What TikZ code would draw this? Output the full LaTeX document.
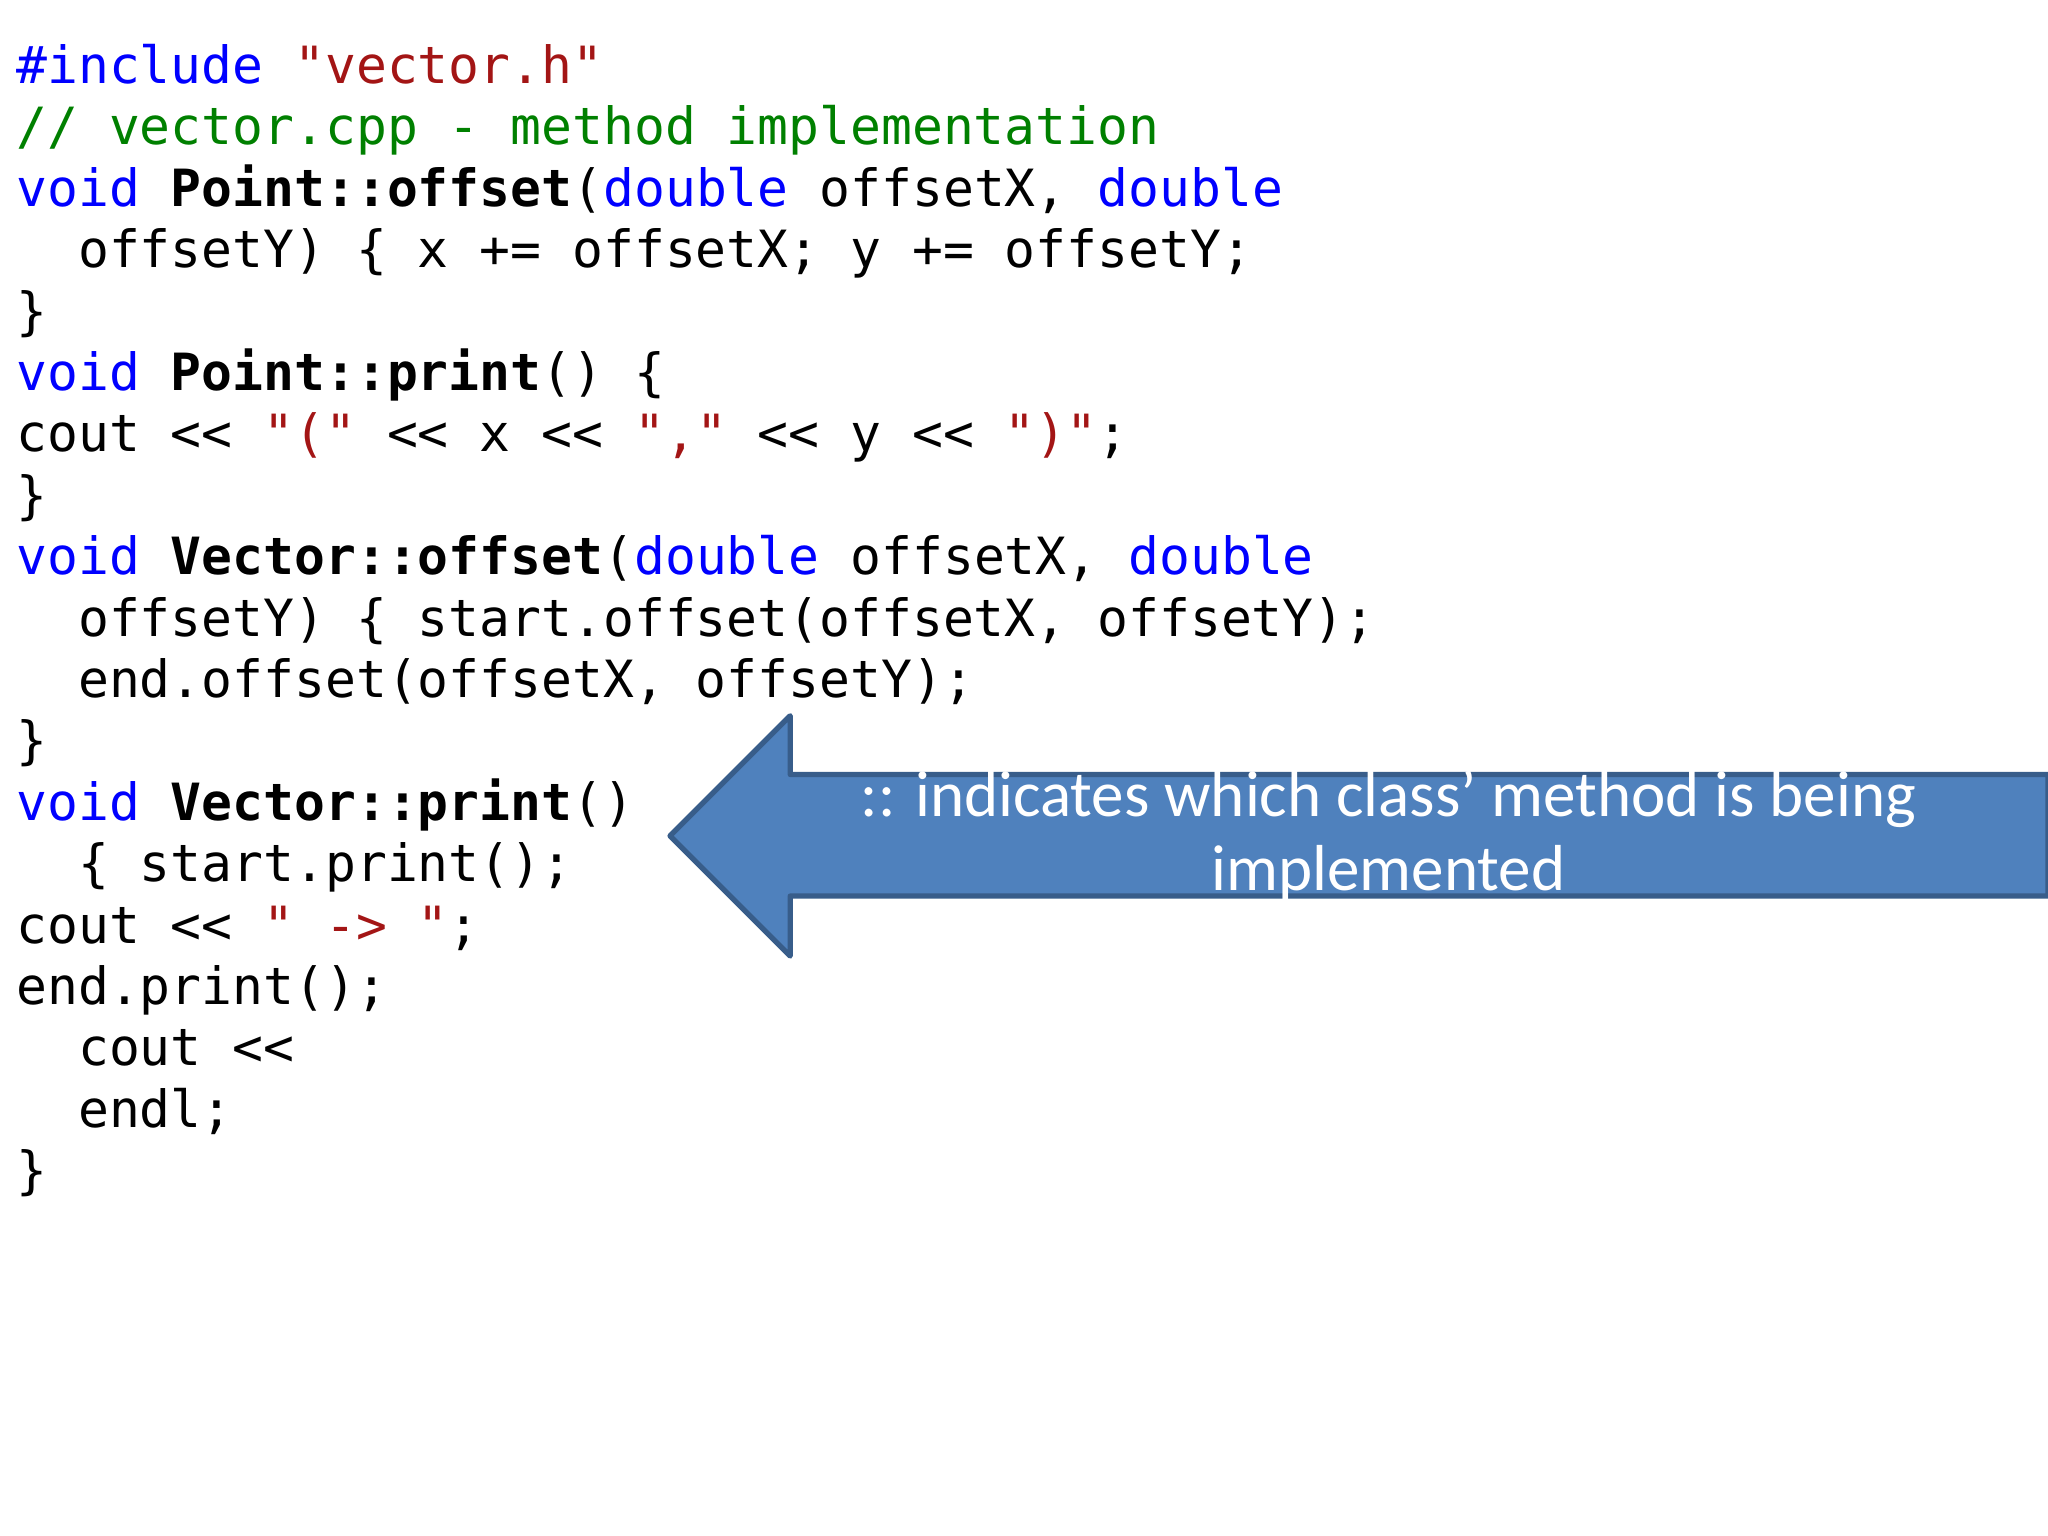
\documentclass[tikz,border=0pt]{standalone}
\usepackage{fontspec}
\setmonofont{DejaVu Sans Mono}
\newfontfamily\calib{Carlito}
\definecolor{kw}{RGB}{0,0,255}
\definecolor{st}{RGB}{163,21,21}
\definecolor{cm}{RGB}{0,128,0}
\definecolor{af}{RGB}{79,129,189}
\definecolor{ad}{RGB}{56,93,138}
\newcommand{\K}[1]{\textcolor{kw}{#1}}
\newcommand{\St}[1]{\textcolor{st}{#1}}
\begin{document}
\begin{tikzpicture}[x=0.01306cm,y=-0.01306cm,
  code/.style={anchor=base west,inner sep=0pt,font=\ttfamily\fontsize{14.6}{17}\selectfont}]
\useasboundingbox (0,0) rectangle (1568,1176);
\def\L#1#2#3{\node[code] (l#1) at (#2,{64+47*(#1-1)}) {#3};}
\L{1}{12}{\K{\#include} \St{"vector.h"}}
\L{2}{12}{\textcolor{cm}{// vector.cpp - method implementation}}
\L{3}{12}{\K{void} \textbf{Point::offset}(\K{double} offsetX, \K{double}}
\L{4}{12}{\ \ offsetY) \{ x += offsetX; y += offsetY;}
\L{5}{12}{\}}
\L{6}{12}{\K{void} \textbf{Point::print}() \{}
\L{7}{12}{cout << \St{"("} << x << \St{","} << y << \St{")"};}
\L{8}{12}{\}}
\L{9}{12}{\K{void} \textbf{Vector::offset}(\K{double} offsetX, \K{double}}
\L{10}{12}{\ \ offsetY) \{ start.offset(offsetX, offsetY);}
\L{11}{12}{\ \ end.offset(offsetX, offsetY);}
\L{12}{12}{\}}
\L{13}{12}{\K{void} \textbf{Vector::print}()}
\L{14}{12}{\ \ \{ start.print();}
\L{15}{12}{cout << \St{" -> "};}
\L{16}{12}{end.print();}
\L{17}{12}{\ \ cout <<}
\L{18}{12}{\ \ endl;}
\L{19}{12}{\}}
\draw[fill=af,draw=ad,line width=1.5pt,line join=round]
  (513,640) -- (605,548) -- (605,593) -- (1568,593) -- (1568,686) -- (605,686) -- (605,732) -- cycle;
\node[text=white,align=center,font=\calib\fontsize{18.5}{21}\selectfont] (lab) at (1063,640)
  {:: indicates which class’ method is being\\implemented};
\end{tikzpicture}
\end{document}
